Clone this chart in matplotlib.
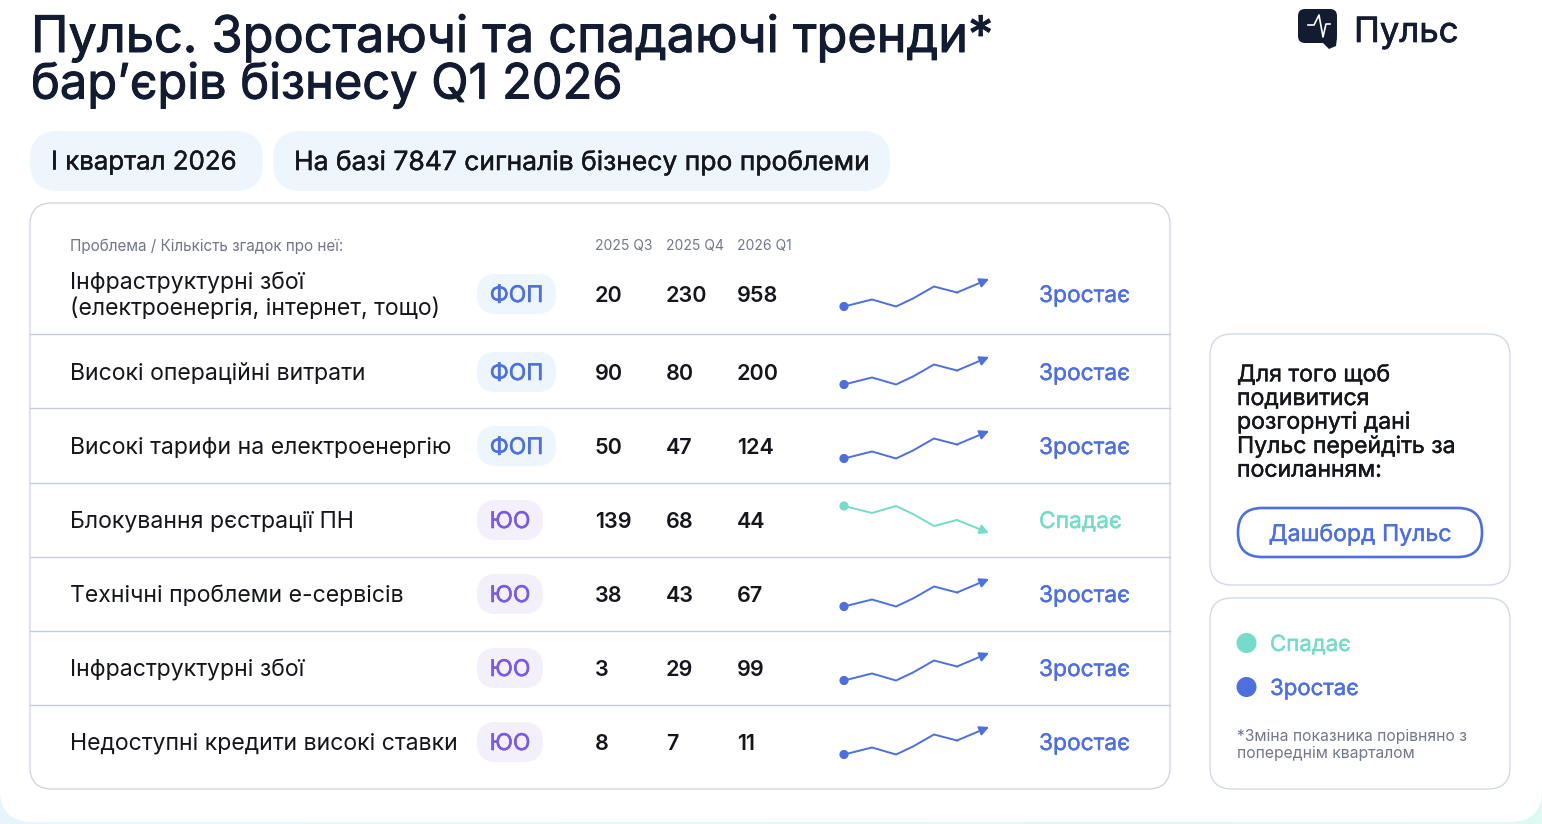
import numpy as np
import matplotlib
matplotlib.use("Agg")
import matplotlib.pyplot as plt
import matplotlib.patheffects as pe
from matplotlib.colors import LinearSegmentedColormap
from matplotlib.patches import FancyBboxPatch, Polygon, Circle

plt.rcParams["font.family"] = ["Inter", "Noto Sans", "DejaVu Sans"]

# Data
problems = [
    "Інфраструктурні збої\n(електроенергія, інтернет, тощо)",
    "Високі операційні витрати",
    "Високі тарифи на електроенергію",
    "Блокування рєстрації ПН",
    "Технічні проблеми е-сервісів",
    "Інфраструктурні збої",
    "Недоступні кредити високі ставки",
]
segments = ["ФОП", "ФОП", "ФОП", "ЮО", "ЮО", "ЮО", "ЮО"]
q3_2025 = [20, 90, 50, 139, 38, 3, 8]
q4_2025 = [230, 80, 47, 68, 43, 29, 7]
q1_2026 = [958, 200, 124, 44, 67, 99, 11]
trends = ["Зростає", "Зростає", "Зростає", "Спадає", "Зростає", "Зростає", "Зростає"]
quarters = ["2025 Q3", "2025 Q4", "2026 Q1"]

spark_x = [0, 28, 52, 69, 90, 113, 145]
spark_up = [12.5, 5.5, 12.5, 4.5, -7.5, -1.5, -15]
spark_down = [-14, -7, -14, -6, 6, 0, 13]

row_y = [294, 372, 446, 520, 594, 668, 742]
dividers = [334, 408, 483, 557, 631, 705]

BLUE = "#4E6FDD"
MINT = "#74DCC8"
DARK = "#131B30"
BLACK = "#14161C"
GREY = "#72778A"
LINE = "#C6CCDE"
PILL = "#EDF6FD"
PILL2 = "#F3F0FC"
PURPLE = "#7A5BE0"
CARD = "#D3D9E8"


def box(ax, x0, y0, x1, y1, r, fc="white", ec="none", lw=0, z=2):
    p = FancyBboxPatch((x0, y0), x1 - x0, y1 - y0,
                       boxstyle=f"round,pad=0,rounding_size={r}",
                       fc=fc, ec=ec, lw=lw, zorder=z)
    ax.add_patch(p)


def label(ax, x, y, s, size, color, bold=0.0, **kw):
    # the installed Inter has few weights, a thin stroke makes up the heavier ones
    t = ax.text(x, y, s, fontsize=size, color=color, va="center", zorder=5, **kw)
    if bold:
        t.set_path_effects([pe.withStroke(linewidth=bold, foreground=color)])
    return t


fig = plt.figure(figsize=(15.42, 8.24), dpi=100)
ax = fig.add_axes([0, 0, 1, 1])
ax.axis("off")

# tinted page behind the white sheet
cmap = LinearSegmentedColormap.from_list("bg", ["#E8F4FD", "#DDFAF3"])
ax.imshow(np.linspace(0, 1, 256).reshape(1, -1), cmap=cmap, extent=[0, 1542, 824, 0], aspect="auto", zorder=0)
ax.set_xlim(0, 1542)
ax.set_ylim(824, 0)
box(ax, 0, -60, 1542, 822, 32, z=1)

# title
label(ax, 31, 38, "Пульс. Зростаючі та спадаючі тренди*", 36.3, DARK, bold=0.7)
label(ax, 31, 85, "бар’єрів бізнесу Q1 2026", 35.1, DARK, bold=0.7)

# logo
box(ax, 1298, 9, 1337, 43, 7, fc=DARK, z=3)
ax.add_patch(Polygon([[1322, 42], [1337, 38], [1336, 46], [1329, 49]], fc=DARK, zorder=3))
ax.plot([1308, 1314, 1319, 1323, 1326, 1330], [25, 25, 15, 37, 24, 24], color="white", lw=1.2, zorder=4)
label(ax, 1354, 33, "Пульс", 25, DARK, bold=0.5)

# header pills
box(ax, 30, 131, 263, 191, 28, fc=PILL)
box(ax, 273, 131, 890, 191, 28, fc=PILL)
label(ax, 51, 163, "І квартал 2026", 18.6, BLACK, bold=0.3)
label(ax, 294, 163, "На базі 7847 сигналів бізнесу про проблеми", 19.05, BLACK, bold=0.3)

# main card
box(ax, 30, 203, 1170, 789, 22, ec=LINE, lw=0.8)
for y in dividers:
    ax.plot([30, 1170], [y, y], color=LINE, lw=1.0, zorder=3)

label(ax, 70, 246, "Проблема / Кількість згадок про неї:", 11, GREY)
for x, q in zip([595, 666, 737], quarters):
    label(ax, x, 246, q, 10, GREY)

for i, y in enumerate(row_y):
    label(ax, 70, y + 2, problems[i], 16.6, BLACK, linespacing=1.15)

    is_fop = segments[i] == "ФОП"
    box(ax, 477, y - 20, 556 if is_fop else 543, y + 20, 19, fc=PILL if is_fop else PILL2)
    label(ax, 516.5 if is_fop else 510, y + 2, segments[i], 16.5, BLUE if is_fop else PURPLE, bold=0.4, ha="center")

    label(ax, 595, y + 2, str(q3_2025[i]), 15.5, BLACK, weight="semibold")
    label(ax, 666, y + 2, str(q4_2025[i]), 15.5, BLACK, weight="semibold")
    label(ax, 737, y + 2, str(q1_2026[i]), 15.5, BLACK, weight="semibold")

    up = trends[i] == "Зростає"
    col = BLUE if up else MINT
    sx = [844 + v for v in spark_x]
    sy = [y + v for v in (spark_up if up else spark_down)]
    ax.plot(sx[:-1], sy[:-1], color=col, lw=1.4, zorder=4, solid_joinstyle="miter")
    ax.annotate("", xy=(sx[-1], sy[-1]), xytext=(sx[-2], sy[-2]), zorder=4,
                arrowprops=dict(arrowstyle="-|>,head_length=0.55,head_width=0.28", color=col, lw=1.4,
                                shrinkA=0, shrinkB=0))
    ax.add_patch(Circle((sx[0], sy[0]), 4.6, fc=col, ec="none", zorder=4))
    label(ax, 1039, y + 2, trends[i], 16.4, col, bold=0.3)

# side cards
box(ax, 1210, 334, 1510, 585, 22, ec=CARD, lw=1)
label(ax, 1237, 423, "Для того щоб\nподивитися\nрозгорнуті дані\nПульс перейдіть за\nпосиланням:", 16.6, BLACK,
      bold=0.3, linespacing=1.1)
box(ax, 1238, 508, 1482, 557, 24, ec=BLUE, lw=1.9, z=3)
label(ax, 1360, 535, "Дашборд Пульс", 16.6, BLUE, bold=0.3, ha="center")

box(ax, 1210, 598, 1510, 789, 22, ec=CARD, lw=1)
ax.add_patch(Circle((1246.5, 643), 10, fc=MINT, ec="none", zorder=4))
ax.add_patch(Circle((1246.5, 687), 10, fc=BLUE, ec="none", zorder=4))
label(ax, 1270, 645, "Спадає", 16, MINT, bold=0.3)
label(ax, 1270, 689, "Зростає", 16, BLUE, bold=0.3)
label(ax, 1237, 745, "*Зміна показника порівняно з\nпопереднім кварталом", 11.3, GREY, linespacing=1.22)

fig.savefig("out.png", dpi=100)
